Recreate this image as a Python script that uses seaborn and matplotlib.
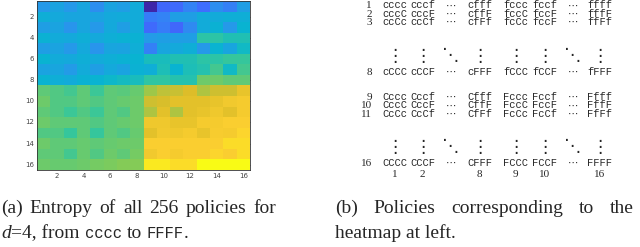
import matplotlib
matplotlib.use("Agg")
import matplotlib.pyplot as plt
from matplotlib.colors import LinearSegmentedColormap
from matplotlib.font_manager import FontProperties
import seaborn as sns
import numpy as np
import pandas as pd

# entropy of the 256 policies, one list per heatmap row (1..16)
row01 = [0.34, 0.38, 0.34, 0.39, 0.31, 0.38, 0.36, 0.41, 0.00, 0.20, 0.21, 0.28, 0.22, 0.31, 0.27, 0.36]
row02 = [0.42, 0.40, 0.39, 0.39, 0.38, 0.40, 0.41, 0.41, 0.26, 0.28, 0.36, 0.36, 0.41, 0.41, 0.42, 0.42]
row03 = [0.36, 0.38, 0.33, 0.39, 0.34, 0.40, 0.36, 0.41, 0.21, 0.26, 0.20, 0.30, 0.41, 0.43, 0.34, 0.44]
row04 = [0.43, 0.41, 0.40, 0.42, 0.40, 0.42, 0.43, 0.43, 0.35, 0.36, 0.36, 0.36, 0.54, 0.54, 0.51, 0.51]
row05 = [0.36, 0.38, 0.34, 0.40, 0.33, 0.39, 0.38, 0.42, 0.27, 0.39, 0.40, 0.42, 0.34, 0.44, 0.39, 0.47]
row06 = [0.44, 0.41, 0.40, 0.42, 0.41, 0.42, 0.43, 0.44, 0.49, 0.49, 0.51, 0.51, 0.54, 0.54, 0.56, 0.56]
row07 = [0.38, 0.39, 0.35, 0.41, 0.36, 0.40, 0.38, 0.43, 0.42, 0.50, 0.44, 0.50, 0.52, 0.58, 0.47, 0.58]
row08 = [0.44, 0.42, 0.41, 0.43, 0.44, 0.46, 0.48, 0.49, 0.55, 0.55, 0.52, 0.52, 0.64, 0.64, 0.62, 0.62]
row09 = [0.62, 0.60, 0.58, 0.62, 0.57, 0.62, 0.61, 0.63, 0.70, 0.74, 0.75, 0.78, 0.72, 0.76, 0.76, 0.82]
row10 = [0.64, 0.60, 0.60, 0.62, 0.60, 0.62, 0.63, 0.64, 0.76, 0.77, 0.80, 0.80, 0.80, 0.82, 0.85, 0.86]
row11 = [0.62, 0.60, 0.57, 0.60, 0.57, 0.62, 0.60, 0.64, 0.72, 0.80, 0.72, 0.80, 0.82, 0.84, 0.80, 0.86]
row12 = [0.64, 0.62, 0.62, 0.62, 0.60, 0.62, 0.63, 0.64, 0.84, 0.84, 0.82, 0.82, 0.86, 0.86, 0.88, 0.88]
row13 = [0.60, 0.60, 0.56, 0.62, 0.56, 0.62, 0.60, 0.63, 0.80, 0.85, 0.84, 0.86, 0.82, 0.87, 0.86, 0.90]
row14 = [0.64, 0.62, 0.62, 0.63, 0.62, 0.63, 0.64, 0.64, 0.88, 0.88, 0.88, 0.88, 0.88, 0.88, 0.92, 0.92]
row15 = [0.62, 0.62, 0.58, 0.63, 0.60, 0.64, 0.62, 0.65, 0.85, 0.88, 0.86, 0.88, 0.88, 0.90, 0.88, 0.92]
row16 = [0.64, 0.63, 0.63, 0.64, 0.65, 0.66, 0.67, 0.67, 0.95, 0.95, 0.92, 0.92, 1.00, 1.00, 1.00, 1.00]

tick_labels = [2, 4, 6, 8, 10, 12, 14, 16]

# policy table (right panel)
table_row_labels = ["1", "2", "3", "8", "9", "10", "11", "16"]
table_policies = [
    ["cccc", "cccf", "cfff", "fccc", "fccf", "ffff"],
    ["cccC", "cccF", "cffF", "fccC", "fccF", "fffF"],
    ["ccCc", "ccCf", "cfFf", "fcCc", "fccF", "ffFf"],
    ["cCCC", "cCCF", "cFFF", "fCCC", "fCCF", "fFFF"],
    ["Cccc", "Cccf", "Cfff", "Fccc", "Fccf", "Ffff"],
    ["CccC", "CccF", "CffF", "FccC", "FccF", "FffF"],
    ["CcCc", "CcCf", "CfFf", "FcCc", "FcCf", "FfFf"],
    ["CCCC", "CCCF", "CFFF", "FCCC", "FCCF", "FFFF"],
]
table_col_labels = ["1", "2", "8", "9", "10", "16"]

# rough parula
parula = LinearSegmentedColormap.from_list("parula", [
    (0.2422, 0.1504, 0.6603), (0.2803, 0.2782, 0.9221), (0.2440, 0.4358, 0.9988),
    (0.1540, 0.5902, 0.9218), (0.0297, 0.7082, 0.8163), (0.1938, 0.7758, 0.6251),
    (0.5044, 0.7993, 0.3480), (0.8634, 0.7406, 0.1596), (0.9892, 0.8136, 0.1885),
    (0.9769, 0.9839, 0.0805)])

sns.set_style("white")
fig = plt.figure(figsize=(6.4, 2.47), dpi=100)
W, H = 640, 247

# ---- (a) heatmap
ax = fig.add_axes([37 / W, 1 - 170 / H, 213 / W, 169 / H])
grid = pd.DataFrame([row01, row02, row03, row04, row05, row06, row07, row08,
                     row09, row10, row11, row12, row13, row14, row15, row16],
                    index=range(1, 17), columns=range(1, 17))
sns.heatmap(grid, cmap=parula, vmin=0, vmax=1, cbar=False, ax=ax)
pos = np.array(tick_labels) - 0.5
ax.set_xticks(pos)
ax.set_xticklabels(tick_labels, rotation=0)
ax.set_yticks(pos)
ax.set_yticklabels(tick_labels, rotation=0)
ax.tick_params(direction="in", length=2, width=0.5, labelsize=5, colors="#444444",
               top=True, right=True, pad=2)
for sp in ax.spines.values():
    sp.set_visible(True)
    sp.set_linewidth(0.6)
    sp.set_color("#333333")
ax.set_xlabel("")
ax.set_ylabel("")

# ---- overlay in pixel coordinates for the table and captions
ov = fig.add_axes([0, 0, 1, 1])
ov.set_xlim(0, W)
ov.set_ylim(H, 0)
ov.axis("off")
renderer = fig.canvas.get_renderer()

serif = "Liberation Serif"
mono = "Liberation Mono"
row_fp = FontProperties(family=serif, size=8)
pol_fp = FontProperties(family=mono, size=7.5)
dot_fp = FontProperties(family="DejaVu Sans", size=7.5)
col_x = [395, 422.5, 479.5, 515.5, 544.5, 600]
dots_x = [451, 573]
row_step = 8.3
# groups of table rows and the baseline of the last row in each group
groups = [([0, 1, 2], 25), ([3], 75), ([4, 5, 6], 116.7), ([7], 166)]


def block(x, y_last, lines, fp, ha="center"):
    # several rows drawn as one text, baselines row_step pixels apart
    _, lp_h, lp_d = renderer.get_text_width_height_descent("lp", fp, ismath=False)
    ls = (row_step - lp_d) / (lp_h - lp_d)
    ov.text(x, y_last, "\n".join(lines), fontproperties=fp, ha=ha, va="baseline",
            multialignment=ha, linespacing=ls)


for idx, y in groups:
    block(372, y, [table_row_labels[i] for i in idx], row_fp, ha="right")
    for j, x in enumerate(col_x):
        block(x, y, [table_policies[i][j] for i in idx], pol_fp)
    for x in dots_x:
        block(x, y, ["\u22ef"] * len(idx), dot_fp)

for yc in [56, 147]:
    for x in col_x:
        ov.text(x, yc, "\u22ee", family="DejaVu Sans", fontsize=12.5, ha="center", va="center")
    for x in dots_x:
        ov.text(x, yc - 1, "\u22f1", family="DejaVu Sans", fontsize=12.5, ha="center", va="center")

for lab, x in zip(table_col_labels, col_x):
    ov.text(x, 176.5, lab, fontproperties=row_fp, ha="center", va="baseline")


# ---- captions
def width_px(t):
    return t.get_window_extent(renderer=renderer).width


def justify(words, x0, x1, y, **kw):
    texts = [ov.text(x0, y, w, ha="left", va="baseline", **kw) for w in words]
    widths = [width_px(t) for t in texts]
    gap = (x1 - x0 - sum(widths)) / (len(words) - 1)
    x = x0
    for t, w in zip(texts, widths):
        t.set_x(x)
        x += w + gap


def runs(pieces, x, y):
    for s, kw, gap in pieces:
        t = ov.text(x, y, s, ha="left", va="baseline", **kw)
        x += width_px(t) + gap


cap = dict(family=serif, fontsize=14)
tt = dict(family=mono, fontsize=11.2)
justify("(a) Entropy of all 256 policies for".split(), 1, 276, 213, **cap)
runs([("d", dict(family=serif, fontsize=14, style="italic"), 0.5),
      ("=4, from", cap, 5),
      ("cccc", tt, 5),
      ("to", cap, 5),
      ("FFFF", tt, 0),
      (".", cap, 0)], 1, 238)

justify("(b) Policies corresponding to the".split(), 335, 634, 213, **cap)
ov.text(335, 238, "heatmap at left.", ha="left", va="baseline", **cap)

fig.savefig("out.png", dpi=100)
